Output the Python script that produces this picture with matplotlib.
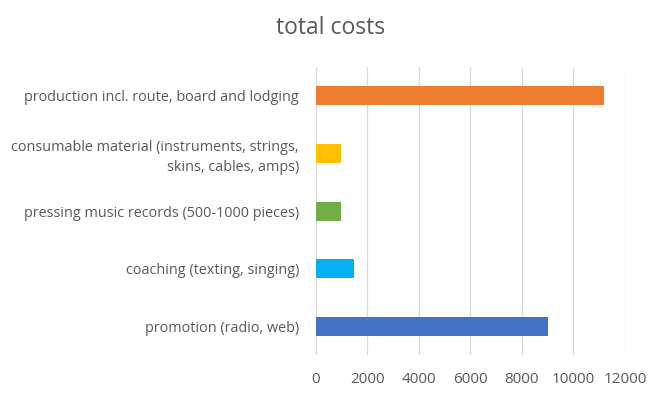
import matplotlib
matplotlib.use("Agg")
import matplotlib.pyplot as plt

categories = [
    "promotion (radio, web)",
    "coaching (texting, singing)",
    "pressing music records (500-1000 pieces)",
    "consumable material (instruments, strings,\nskins, cables, amps)",
    "production incl. route, board and lodging",
]
costs = [9000, 1500, 1000, 1000, 11200]
colors = ["#4472C4", "#00B0F0", "#70AD47", "#FFC000", "#ED7D31"]
xticks = [0, 2000, 4000, 6000, 8000, 10000, 12000]

plt.rcParams["font.family"] = ["Open Sans", "DejaVu Sans"]
TEXT = "#595959"

fig = plt.figure(figsize=(6.68, 3.99), dpi=100)
ax = fig.add_axes([0.4726, 0.110, 0.463, 0.722])

ax.barh(range(len(categories)), costs, height=0.33, color=colors, zorder=3)
ax.set_yticks(range(len(categories)))
ax.set_yticklabels(categories, fontsize=10.4, color=TEXT, linespacing=1.45)
ax.set_xticks(xticks)
ax.set_xticklabels([str(t) for t in xticks], fontsize=11, color=TEXT)
ax.set_xlim(0, 12000)
ax.set_ylim(-0.5, len(categories) - 0.5)

ax.grid(axis="x", color="#D9D9D9", lw=0.9, zorder=0)
for s in ax.spines.values():
    s.set_visible(False)
ax.tick_params(axis="both", length=0)
ax.tick_params(axis="y", pad=12)
ax.tick_params(axis="x", pad=12)

fig.text(0.495, 0.93, "total costs", ha="center", va="center",
         fontsize=16.5, color=TEXT)

fig.savefig("out.png", dpi=100)
